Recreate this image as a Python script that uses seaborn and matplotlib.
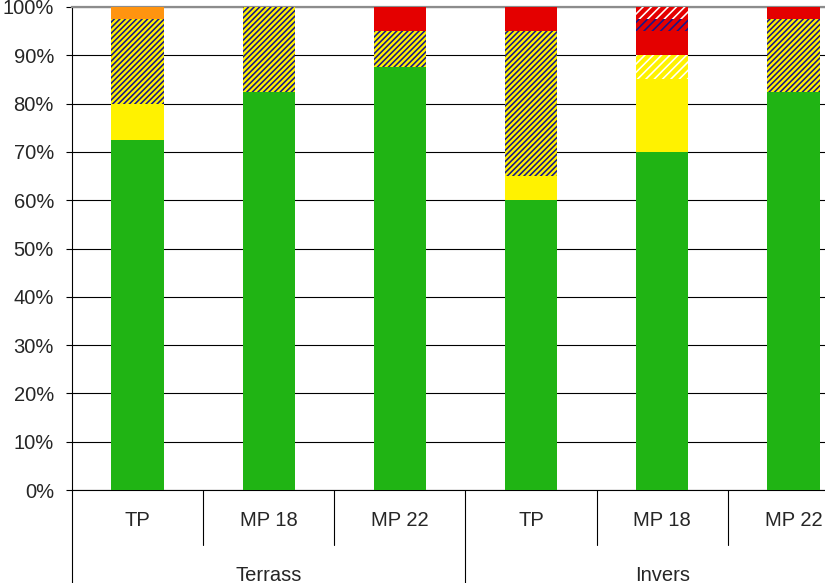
import matplotlib
matplotlib.use('Agg')
import matplotlib.pyplot as plt
import matplotlib.transforms as mtransforms
import numpy as np
import pandas as pd
import seaborn as sns

# bar positions: (group, sub-category)
groups = ['Terrass', 'Invers']
subcats = ['TP', 'MP 18', 'MP 22']
bar_keys = [f'{g} {s}' for g in groups for s in subcats]

# stacked segments, bottom to top (percent)
green = [72.5, 82.5, 87.5, 60.0, 70.0, 82.5]
yellow = [7.5, 0.0, 0.0, 5.0, 15.0, 0.0]
yellow_white_hatch = [0.0, 0.0, 0.0, 0.0, 5.0, 0.0]
yellow_navy_hatch = [17.5, 17.5, 7.5, 30.0, 0.0, 15.0]
red = [0.0, 0.0, 5.0, 5.0, 5.0, 2.5]
red_navy_hatch = [0.0, 0.0, 0.0, 0.0, 2.5, 0.0]
red_white_hatch = [0.0, 0.0, 0.0, 0.0, 2.5, 0.0]
orange = [2.5, 0.0, 0.0, 0.0, 0.0, 0.0]

GREEN = '#20B414'
YELLOW = '#FFF200'
NAVY = '#16168A'
RED = '#E40000'
ORANGE = '#FF9410'

# (values, face, hatch, hatch colour)
layers = [
    (green, GREEN, None, GREEN),
    (yellow, YELLOW, None, YELLOW),
    (yellow_white_hatch, YELLOW, '////', 'white'),
    (yellow_navy_hatch, YELLOW, '//////', NAVY),
    (red, RED, None, RED),
    (red_navy_hatch, RED, '////', NAVY),
    (red_white_hatch, RED, '////', 'white'),
    (orange, ORANGE, None, ORANGE),
]

sns.set_style('white')
plt.rcParams['font.family'] = ['Liberation Sans', 'DejaVu Sans']
plt.rcParams['hatch.linewidth'] = 1.15

fig = plt.figure(figsize=(8.25, 5.83), dpi=100)
ax = fig.add_axes([72 / 825, 93 / 583, 787 / 825, 483 / 583])

bottom = np.zeros(len(bar_keys))
for vals, face, hatch, hcol in layers:
    df = pd.DataFrame({'bar': bar_keys, 'pct': vals})
    sns.barplot(data=df, x='bar', y='pct', order=bar_keys, ax=ax,
                color=face, width=0.4, errorbar=None, saturation=1,
                bottom=bottom.copy(), hatch=hatch, edgecolor=hcol,
                linewidth=0, zorder=3)
    bottom += np.array(vals)

# axes styling
ax.set_xlim(-0.5, 5.5)
ax.set_ylim(0, 100)
ax.set_yticks(np.arange(0, 101, 10))
ax.set_yticklabels([f'{v}%' for v in range(0, 101, 10)], fontsize=14.5)
ax.yaxis.grid(True, color='black', linewidth=0.8, zorder=0)
ax.set_axisbelow(True)
ax.tick_params(axis='y', which='major', left=True, length=4, width=0.8,
               color='black', pad=9)
ax.set_xticks([])
ax.set_xlabel('')
ax.set_ylabel('')
ax.spines['right'].set_visible(False)
ax.spines['top'].set_color('#8c8c8c')
ax.spines['top'].set_linewidth(1.6)
for side in ['left', 'bottom']:
    ax.spines[side].set_color('black')
    ax.spines[side].set_linewidth(0.8)

# two-level category axis
trans = mtransforms.blended_transform_factory(ax.transData, ax.transAxes)
for i, key in enumerate(bar_keys):
    ax.text(i, -0.064, subcats[i % 3], transform=trans, ha='center',
            va='center', fontsize=14.5)
for gi, g in enumerate(groups):
    ax.text(gi * 3 + 1, -0.176, g, transform=trans, ha='center',
            va='center', fontsize=14.5)

for xb in [0.5, 1.5, 3.5, 4.5]:
    ax.plot([xb, xb], [0, -0.114], transform=trans, color='black',
            linewidth=0.8, clip_on=False)
for xb in [-0.5, 2.5, 5.5]:
    ax.plot([xb, xb], [0, -0.3], transform=trans, color='black',
            linewidth=0.8, clip_on=False)

fig.savefig('out.png', dpi=100)
